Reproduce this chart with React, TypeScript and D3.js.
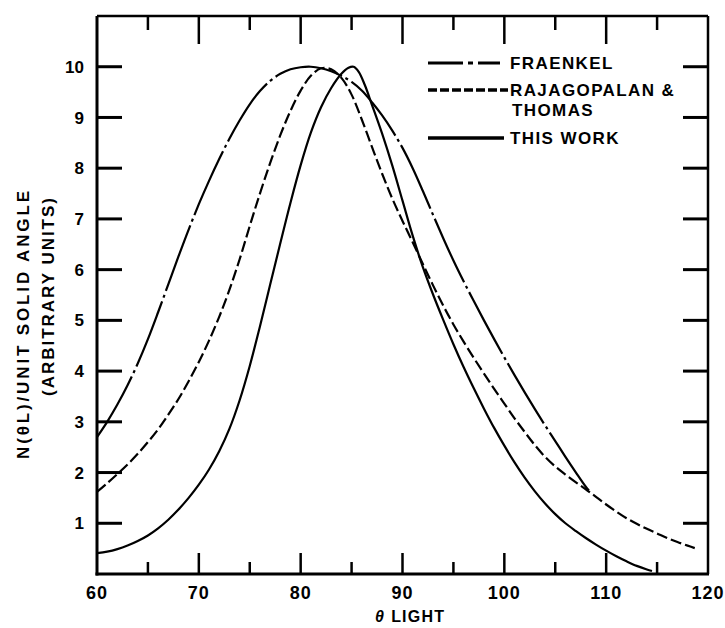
import React, { useEffect, useRef } from "react";
import * as d3 from "d3";

// axis ticks
const xLabels = [60, 70, 80, 90, 100, 110, 120];
const xInnerTicks = [65, 70, 75, 80, 85, 90, 95, 100, 105, 110, 115];
const yLabels = [1, 2, 3, 4, 5, 6, 7, 8, 9, 10];

// Fraenkel (dash-dot)
const fraenkelTheta = [60, 61, 62, 63, 64, 65, 66, 67, 68, 69, 70, 71, 72, 73, 74, 75, 76, 77, 78, 79, 80, 81, 82, 83, 84, 85, 86, 87, 88, 89, 90, 91, 92, 93, 94, 95, 96, 97, 98, 99, 100, 101, 102, 103, 104, 105, 106, 107, 108, 108.5];
const fraenkelN = [2.7, 3.0, 3.34, 3.72, 4.15, 4.63, 5.16, 5.71, 6.26, 6.79, 7.29, 7.75, 8.18, 8.58, 8.94, 9.26, 9.52, 9.72, 9.86, 9.95, 9.99, 10.0, 9.97, 9.91, 9.82, 9.7, 9.53, 9.3, 9.04, 8.74, 8.4, 8.0, 7.55, 7.08, 6.62, 6.18, 5.77, 5.38, 5.0, 4.63, 4.27, 3.92, 3.58, 3.25, 2.93, 2.62, 2.31, 2.01, 1.72, 1.6];

// Rajagopalan & Thomas (dashed)
const rajTheta = [60, 61, 62, 63, 64, 65, 66, 67, 68, 69, 70, 71, 72, 73, 74, 75, 76, 77, 78, 79, 80, 81, 82, 83, 84, 85, 86, 87, 88, 89, 90, 91, 92, 93, 94, 95, 96, 97, 98, 99, 100, 101, 102, 103, 104, 105, 106, 107, 108, 109, 110, 111, 112, 113, 114, 115, 116, 117, 118, 118.7];
const rajN = [1.62, 1.79, 1.97, 2.16, 2.37, 2.6, 2.85, 3.14, 3.45, 3.8, 4.18, 4.6, 5.07, 5.6, 6.2, 6.86, 7.5, 8.1, 8.65, 9.13, 9.53, 9.82, 9.97, 9.95, 9.78, 9.45, 8.96, 8.42, 7.89, 7.4, 6.96, 6.54, 6.11, 5.69, 5.29, 4.92, 4.58, 4.26, 3.95, 3.65, 3.36, 3.07, 2.8, 2.54, 2.31, 2.12, 1.96, 1.81, 1.67, 1.52, 1.37, 1.23, 1.1, 0.99, 0.89, 0.8, 0.71, 0.63, 0.56, 0.51];

// this work (solid)
const workTheta = [60, 61, 62, 63, 64, 65, 66, 67, 68, 69, 70, 71, 72, 73, 74, 75, 76, 77, 78, 79, 80, 81, 82, 83, 84, 84.7, 85.2, 85.7, 86.3, 87, 88, 89, 90, 91, 92, 93, 94, 95, 96, 97, 98, 99, 100, 101, 102, 103, 104, 105, 106, 107, 108, 109, 110, 111, 112, 113, 114, 114.5];
const workN = [0.41, 0.44, 0.49, 0.56, 0.65, 0.76, 0.9, 1.07, 1.27, 1.5, 1.76, 2.06, 2.42, 2.86, 3.42, 4.1, 4.88, 5.7, 6.52, 7.32, 8.06, 8.7, 9.2, 9.58, 9.86, 9.98, 10.0, 9.9, 9.64, 9.25, 8.68, 8.05, 7.36, 6.67, 6.05, 5.51, 5.01, 4.53, 4.08, 3.66, 3.26, 2.88, 2.53, 2.2, 1.9, 1.63, 1.39, 1.18, 1.0, 0.85, 0.71, 0.58, 0.46, 0.35, 0.25, 0.16, 0.09, 0.06];

const legendNames = [["FRAENKEL"], ["RAJAGOPALAN &", "THOMAS"], ["THIS WORK"]];

const FONT = "'Liberation Sans', Arial, sans-serif";

const App = () => {
  const ref = useRef<SVGSVGElement>(null);

  function draw() {
    const svg = d3.select(ref.current);
    svg.selectAll("*").remove();
    const width = 725;
    const height = 628;
    svg.attr("width", width).attr("height", height).attr("viewBox", [0, 0, width, height]);

    const x = d3.scaleLinear().domain([60, 120]).range([97, 708]);
    const y = d3.scaleLinear().domain([0, 11]).range([574, 16]);

    svg.append("rect").attr("width", width).attr("height", height).attr("fill", "#fff");

    const g = svg.append("g").attr("stroke", "#000").attr("fill", "none");

    // frame
    g.append("line").attr("x1", x(60)).attr("x2", x(60)).attr("y1", y(11)).attr("y2", y(0) + 1.5).attr("stroke-width", 3);
    g.append("line").attr("x1", x(60) - 1.5).attr("x2", x(120) + 1).attr("y1", y(0)).attr("y2", y(0)).attr("stroke-width", 3);
    g.append("line").attr("x1", x(60)).attr("x2", x(120)).attr("y1", y(11)).attr("y2", y(11)).attr("stroke-width", 2.5);
    g.append("line").attr("x1", x(120)).attr("x2", x(120)).attr("y1", y(11)).attr("y2", y(0)).attr("stroke-width", 2.5);

    // y ticks, both sides, pointing in
    yLabels.forEach((t) => {
      g.append("line").attr("x1", x(60)).attr("x2", x(60) + 25).attr("y1", y(t)).attr("y2", y(t)).attr("stroke-width", 3);
      g.append("line").attr("x1", x(120) - 25).attr("x2", x(120)).attr("y1", y(t)).attr("y2", y(t)).attr("stroke-width", 3);
    });

    // x ticks, bottom and top
    xInnerTicks.forEach((t) => {
      const major = t % 10 === 0;
      g.append("line").attr("x1", x(t)).attr("x2", x(t)).attr("y1", y(0)).attr("y2", y(0) - (major ? 21 : 12)).attr("stroke-width", 2.5);
      g.append("line").attr("x1", x(t)).attr("x2", x(t)).attr("y1", y(11)).attr("y2", y(11) + (major ? 28 : 14)).attr("stroke-width", 2.5);
    });

    const text = svg.append("g").attr("font-family", FONT).attr("font-weight", "bold").attr("fill", "#000");

    text.selectAll(".ylab").data(yLabels).join("text")
      .attr("x", 84).attr("y", (d) => y(d)).attr("dy", "0.36em")
      .attr("text-anchor", "end").attr("font-size", 17)
      .text((d) => d);

    text.selectAll(".xlab").data(xLabels).join("text")
      .attr("x", (d) => x(d)).attr("y", 599)
      .attr("text-anchor", "middle").attr("font-size", 18).attr("letter-spacing", 1)
      .text((d) => d);

    const xt = text.append("text").attr("x", 375).attr("y", 622).attr("font-size", 16).attr("letter-spacing", 1.2);
    xt.append("tspan").attr("font-style", "italic").text("θ");
    xt.append("tspan").attr("dx", 6).text("LIGHT");

    text.append("text")
      .attr("transform", "translate(23,325) rotate(-90)")
      .attr("text-anchor", "middle").attr("dominant-baseline", "central")
      .attr("font-size", 17).attr("textLength", 268).attr("lengthAdjust", "spacing")
      .text("N(θL)/UNIT SOLID ANGLE");
    text.append("text")
      .attr("transform", "translate(48,297) rotate(-90)")
      .attr("text-anchor", "middle").attr("dominant-baseline", "central")
      .attr("font-size", 17).attr("textLength", 198).attr("lengthAdjust", "spacing")
      .text("(ARBITRARY UNITS)");

    // curves
    const line = d3.line<[number, number]>()
      .x((d) => x(d[0]))
      .y((d) => y(d[1]))
      .curve(d3.curveCatmullRom.alpha(0.5));

    const series = [
      { pts: d3.zip(fraenkelTheta, fraenkelN), dash: "70,4,3,4" },
      { pts: d3.zip(rajTheta, rajN), dash: "11,4" },
      { pts: d3.zip(workTheta, workN), dash: null },
    ];
    series.forEach((s) => {
      g.append("path")
        .attr("d", line(s.pts as [number, number][]))
        .attr("stroke-width", 2.2)
        .attr("stroke-dasharray", s.dash)
        .attr("stroke-linejoin", "round");
    });

    // legend
    const legendStyle = [
      { dash: "35,5,5,5", w: 3, y: 63, x2: 500 },
      { dash: "9,3", w: 3.5, y: 90, x2: 508 },
      { dash: null, w: 3.5, y: 138, x2: 504 },
    ];
    legendNames.forEach((lines, i) => {
      const st = legendStyle[i];
      g.append("line").attr("x1", 428).attr("x2", st.x2).attr("y1", st.y).attr("y2", st.y)
        .attr("stroke-width", st.w).attr("stroke-dasharray", st.dash);
      lines.forEach((l, j) => {
        text.append("text")
          .attr("x", j === 0 ? 510 : 512).attr("y", st.y + 6 + j * 20)
          .attr("font-size", 17).attr("letter-spacing", 1.4)
          .text(l);
      });
    });
  }

  useEffect(() => {
    draw();
  }, []);

  return (
    <div style={{ position: "absolute", left: 0, top: 0 }}>
      <svg ref={ref} style={{ display: "block" }} />
    </div>
  );
};

export default App;
